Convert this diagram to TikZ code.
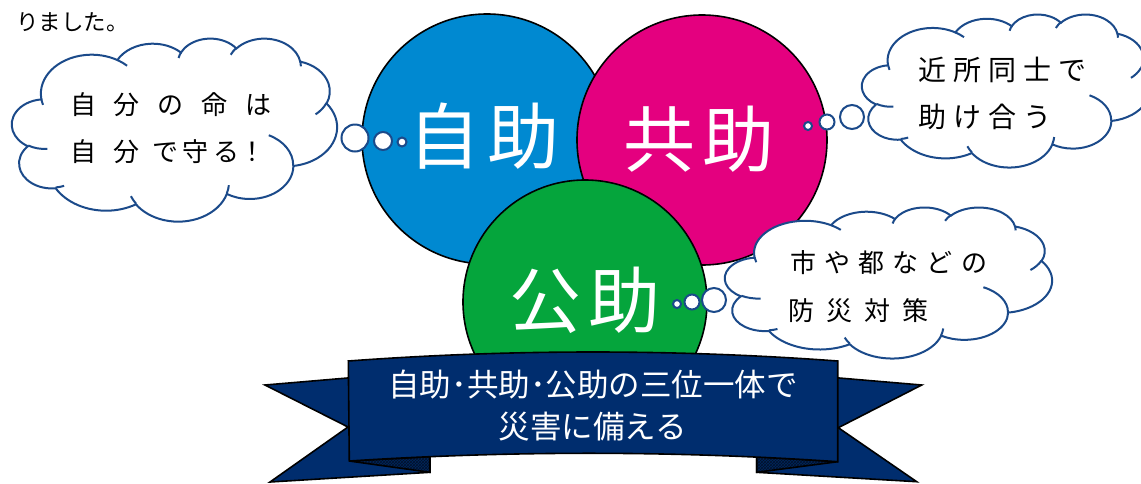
\documentclass[tikz,border=0pt]{standalone}
\usepackage{fontspec}
\newfontfamily\jp{Noto Sans CJK JP}
\usetikzlibrary{patterns}
\definecolor{jblue}{RGB}{0,137,209}
\definecolor{jmag}{RGB}{228,0,127}
\definecolor{jgreen}{RGB}{5,165,60}
\definecolor{cloudblue}{RGB}{27,74,138}
\definecolor{bannernavy}{RGB}{0,45,110}
\newcommand\jgap[1]{\hspace{#1pt}}
\tikzset{
  bigcircle/.style={circle, draw=black, line width=1.6pt, minimum size=250pt, inner sep=0pt},
  circletext/.style={text=white, inner sep=0pt, font=\jp\fontsize{72}{72}\selectfont},
  cloudline/.style={draw=cloudblue, line width=2pt},
  bubble/.style={circle, cloudline, fill=white, inner sep=0pt},
  cloudtext/.style={inner sep=0pt, anchor=west, text=black},
  bannerpart/.style={fill=bannernavy, draw=black, line width=1.6pt, line join=miter},
  foldpart/.style={fill=bannernavy!85!black},
  foldhatch/.style={pattern=crosshatch, pattern color=bannernavy!40!black},
  bannertext/.style={font=\jp\fontsize{31.5}{31.5}\selectfont, text=white, inner sep=0pt}
}
\newcommand\ofcloud[4]{%
\begin{scope}[shift={(#1,#2)}, xscale=#3/432, yscale=#4/432]
\draw[cloudline, fill=white] (39,143.7)
 \foreach \wr/\hr/\st/\sw [evaluate={\st as \ta using atan2(\wr*sin(\st),\hr*cos(\st))},
   evaluate={\sw as \tb using atan2(\wr*sin(\st+\sw),\hr*cos(\st+\sw))},
   evaluate={\sw as \da using mod(mod(\tb-(\ta),360)+360,360)}] in
 {67.53/91.90/-190.4875/123.7805, 53.33/72.67/-144.1024/89.9452, 43.65/59.45/-145.8079/99.7230,
  48.57/65.95/-130.9861/117.2417, 53.33/72.73/-78.7089/109.0269, 67.75/92.20/-46.2673/130.2690,
  57.85/78.67/0.6250/114.0333, 67.52/92.15/22.4516/115.1726, 77.20/105.43/66.2426/75.7110,
  43.60/59.18/-274.9421/146.7356, 43.45/59.45/-246.8285/152.5189}
 { arc[x radius=\wr, y radius=\hr, start angle=\ta, delta angle=\da] } -- cycle;
\draw[cloudline]
 \foreach \px/\py/\wr/\hr/\st/\sw [evaluate={\st as \ta using atan2(\wr*sin(\st),\hr*cos(\st))},
   evaluate={\sw as \tb using atan2(\wr*sin(\st+\sw),\hr*cos(\st+\sw))},
   evaluate={\sw as \da using mod(mod(\tb-(\ta),360)+360,360)}] in
 {46.93/261.77/43.45/59.45/86.742/26.4295, 69.28/348.99/43.60/59.18/73.6105/11.4475,
  164.78/390.90/67.52/92.15/137.6242/14.0811, 288.27/347.51/67.52/92.15/6.4533/15.9984,
  341.29/229.54/57.85/78.67/-70.2924/70.9174, 417.98/153.54/53.33/72.73/30.3180/27.7515,
  383.24/54.26/48.57/65.95/-13.7443/14.8589, 290.78/39.52/48.57/65.95/-149.1815/18.1954,
  221.41/47.20/43.65/59.45/-163.4943/17.6864, 140.00/51.92/67.53/91.90/-66.7070/12.3194,
  41.27/157.89/67.53/91.90/157.6544/11.8582}
 { (\px,\py) arc[x radius=\wr, y radius=\hr, start angle=\ta, delta angle=\da] };
\end{scope}}
\begin{document}
\begin{tikzpicture}[x=1pt,y=-1pt]
\useasboundingbox (0,0) rectangle (1141,483);
\clip (0,0) rectangle (1141,483);

% top-left fragment
\node[cloudtext, font=\jp\fontsize{22.5}{22.5}\selectfont] (frag) at (16,22) {りました。};

% circles
\node[bigcircle, fill=jblue] (jijo) at (487,139) {};
\node[bigcircle, fill=jmag] (kyojo) at (702,140) {};
\node[bigcircle, fill=jgreen, minimum size=244pt] (kojo) at (585,302) {};
\node[circletext] (tjijo) at (484,136) {自\jgap{7}助};
\node[circletext] (tkyojo) at (699,139) {共\jgap{7}助};
\node[circletext] (tkojo) at (585,300) {公\jgap{7}助};

% clouds
\ofcloud{12}{38}{325}{183}
\ofcloud{862}{14}{288}{153}
\ofcloud{725}{207}{327}{151}

% cloud texts
\node[cloudtext, font=\jp\fontsize{26}{26}\selectfont] (l1) at (70,105) {自\jgap{17.75}分\jgap{17.75}の\jgap{17.75}命\jgap{17.75}は};
\node[cloudtext, font=\jp\fontsize{26}{26}\selectfont] (l2) at (70,152) {自\jgap{17}分\jgap{13}で\jgap{4}守\jgap{5}る！};
\node[cloudtext, font=\jp\fontsize{28}{28}\selectfont] (r1) at (918,70) {近\jgap{7}所\jgap{7}同\jgap{7}士\jgap{7}で};
\node[cloudtext, font=\jp\fontsize{28}{28}\selectfont] (r2) at (918,117) {助\jgap{7}け\jgap{7}合\jgap{7}う};
\node[cloudtext, font=\jp\fontsize{26}{26}\selectfont] (b1) at (790,263) {市\jgap{8.2}や\jgap{8.2}都\jgap{8.2}な\jgap{8.2}ど\jgap{8.2}の};
\node[cloudtext, font=\jp\fontsize{26}{26}\selectfont] (b2) at (788,311) {防\jgap{12}災\jgap{12}対\jgap{12}策};

% thought bubbles
\node[bubble, minimum size=27pt] (lb1) at (355,138) {};
\node[bubble, minimum size=18pt] (lb2) at (383,141) {};
\node[bubble, minimum size=9pt] (lb3) at (402,142) {};
\node[bubble, minimum size=24pt] (rb1) at (852,117) {};
\node[bubble, minimum size=15pt] (rb2) at (827,122) {};
\node[bubble, minimum size=8pt] (rb3) at (808,126) {};
\node[bubble, minimum size=24pt] (bb1) at (714,300) {};
\node[bubble, minimum size=15pt] (bb2) at (692,302) {};
\node[bubble, minimum size=8pt] (bb3) at (677,304) {};

% banner tails
\draw[bannerpart] (265,385) -- (348,427) -- (270,482) -- (430,472.3) -- (430,371) -- cycle;
\draw[bannerpart] (921.7,385) -- (838.3,427.7) -- (916.7,481.7) -- (756.7,472.3) -- (756.7,371) -- cycle;
% folds
\fill[foldpart] (349.3,461) -- (430,456.7) -- (430,472.3) -- cycle;
\fill[foldhatch] (349.3,461) -- (430,456.7) -- (430,472.3) -- cycle;
\draw[black, line width=1.6pt, line join=miter] (349.3,461) -- (430,456.7) -- (430,472.3) -- cycle;
\fill[foldpart] (837.7,461.7) -- (756.7,456.7) -- (756.7,472.3) -- cycle;
\fill[foldhatch] (837.7,461.7) -- (756.7,456.7) -- (756.7,472.3) -- cycle;
\draw[black, line width=1.6pt, line join=miter] (837.7,461.7) -- (756.7,456.7) -- (756.7,472.3) -- cycle;
% front panel
\draw[bannerpart] (348.3,361) .. controls (511.3,349) and (674.5,349) .. (837.7,361)
  -- (837.7,461.7) .. controls (674.5,450.6) and (511.3,450.6) .. (349.3,461) -- cycle;
\node[bannertext] (ban1) at (593,385) {自助･共助･公助の三位一体で};
\node[bannertext] (ban2) at (593,427) {災害に備える};
\end{tikzpicture}
\end{document}
